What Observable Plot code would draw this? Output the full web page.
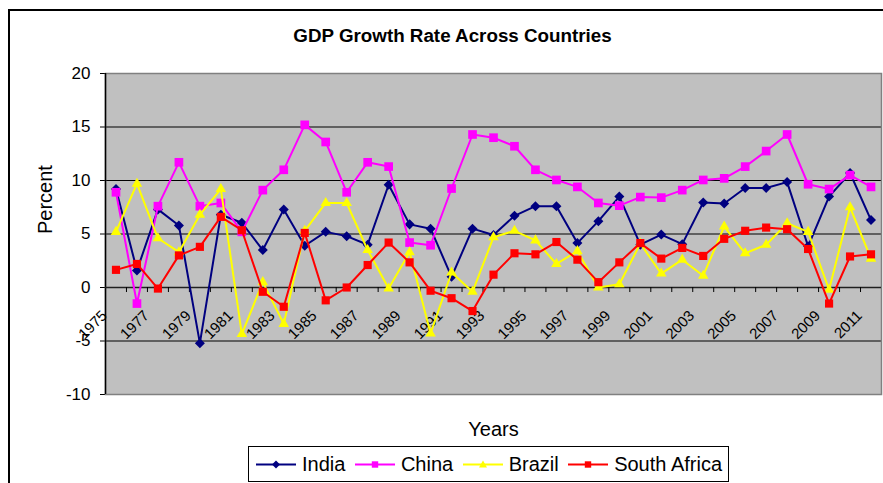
<!DOCTYPE html>
<html>
<head>
<meta charset="utf-8">
<script src="https://cdn.jsdelivr.net/npm/d3@7"></script>
<script src="https://cdn.jsdelivr.net/npm/@observablehq/plot@0.6"></script>
<style>
html, body { margin: 0; padding: 0; background: #fff; }
#wrap { position: relative; width: 883px; height: 483px; overflow: hidden; font-family: "Liberation Sans", Arial, sans-serif; color: #000; }
#outer { position: absolute; left: 8px; top: 9px; width: 900px; height: 500px; border: 2px solid #000; box-sizing: border-box; }
#chart { position: absolute; left: 0; top: 0; }
#title { position: absolute; left: 452.5px; top: 27px; transform: translateX(-50%); font-weight: bold; font-size: 18.8px; line-height: 18px; white-space: nowrap; }
#legend { position: absolute; left: 248px; top: 446px; width: 481px; height: 36px; box-sizing: border-box; border: 1px solid #000; background: #fff; display: flex; align-items: center; padding-left: 7px; font-size: 20px; white-space: nowrap; }
#legend .item { display: flex; align-items: center; margin-right: 9.5px; }
#legend svg { display: block; margin-right: 6px; }
</style>
</head>
<body>
<div id="wrap">
  <div id="outer"></div>
  <div id="chart"></div>
  <div id="title">GDP Growth Rate Across Countries</div>
  <div id="legend"></div>
</div>
<script>
// ---- data ----
const years = [1975,1976,1977,1978,1979,1980,1981,1982,1983,1984,1985,1986,1987,1988,1989,1990,1991,1992,1993,1994,1995,1996,1997,1998,1999,2000,2001,2002,2003,2004,2005,2006,2007,2008,2009,2010,2011];
const india = [9.2,1.6,7.3,5.8,-5.2,6.8,6.05,3.5,7.3,3.9,5.2,4.8,4.0,9.6,5.9,5.5,1.0,5.5,4.9,6.7,7.6,7.6,4.15,6.2,8.5,4.0,4.95,4.05,7.95,7.85,9.3,9.3,9.85,3.85,8.5,10.7,6.3];
const china = [8.9,-1.5,7.6,11.7,7.6,7.9,5.2,9.1,11.0,15.2,13.6,8.9,11.7,11.3,4.2,3.95,9.25,14.3,14.0,13.2,11.0,10.05,9.4,7.9,7.65,8.45,8.4,9.1,10.05,10.2,11.3,12.75,14.3,9.65,9.2,10.5,9.4];
const brazil = [5.2,9.7,4.6,3.3,6.8,9.2,-4.35,0.5,-3.4,5.3,7.9,7.9,3.5,-0.1,3.3,-4.3,1.4,-0.4,4.7,5.3,4.4,2.2,3.4,0.0,0.3,4.1,1.3,2.6,1.1,5.7,3.2,4.0,6.0,5.2,-0.2,7.5,2.7];
const southAfrica = [1.65,2.2,-0.1,3.0,3.8,6.6,5.35,-0.4,-1.8,5.1,-1.2,0.0,2.1,4.2,2.35,-0.3,-1.0,-2.2,1.2,3.2,3.1,4.25,2.6,0.5,2.35,4.15,2.7,3.7,2.95,4.55,5.3,5.6,5.45,3.6,-1.5,2.9,3.1];
const yTicks = [-10,-5,0,5,10,15,20];
const xLabelYears = [1975,1977,1979,1981,1983,1985,1987,1989,1991,1993,1995,1997,1999,2001,2003,2005,2007,2009,2011];
const seriesNames = ["India","China","Brazil","South Africa"];
const seriesColors = ["#000080","#FF00FF","#FFFF00","#FF0000"];
const seriesValues = [india, china, brazil, southAfrica];

// ---- layout ----
const W = 883, H = 483, ML = 105, MR = 2, MT = 73, MB = 89;
const step = (W - ML - MR) / years.length;

const diamond = {draw(ctx, size) { const s = Math.sqrt(size / 2); ctx.moveTo(0, -s); ctx.lineTo(s, 0); ctx.lineTo(0, s); ctx.lineTo(-s, 0); ctx.closePath(); }};
const symbols = [diamond, "square", "triangle", "square"];
const radii = [4.0, 4.9, 3.9, 4.6];

const rows = (vals) => years.map((year, i) => ({year, value: vals[i]}));

const marks = [
  Plot.frame({fill: "#C0C0C0", stroke: "none"}),
  Plot.ruleY(yTicks.slice(0, -1), {y: d => d, stroke: "#000", strokeWidth: 1}),
  Plot.frame({stroke: "#808080", strokeWidth: 1.5}),
  Plot.ruleX([years[0]], {x: d => d, dx: -step / 2, y1: () => yTicks[0], y2: () => yTicks[yTicks.length - 1], stroke: "#000", strokeWidth: 1.5}),
  Plot.ruleY([0], {y: d => d, stroke: "#202020", strokeWidth: 1.5}),
  Plot.ruleX(years.slice(1), {x: d => d, dx: -step / 2, y1: () => 0, y2: () => -0.47, stroke: "#000"}),
  Plot.text(xLabelYears, {x: d => d, y: () => 0, text: d => String(d), rotate: -45, textAnchor: "end", lineAnchor: "bottom", dx: -8, dy: 29, fontSize: 15}),
  Plot.text(["Years"], {frameAnchor: "bottom", text: d => d, lineAnchor: "bottom", dy: 41, fontSize: 20}),
  Plot.text(["Percent"], {frameAnchor: "left", text: d => d, rotate: -90, lineAnchor: "bottom", dx: -53.5, fontSize: 20})
];
seriesValues.forEach((vals, k) => {
  marks.push(Plot.line(rows(vals), {x: "year", y: "value", stroke: seriesColors[k], strokeWidth: 2}));
  marks.push(Plot.dot(rows(vals), {x: "year", y: "value", symbol: symbols[k], r: radii[k], fill: seriesColors[k], stroke: "none"}));
});

const chart = Plot.plot({
  width: W, height: H,
  marginLeft: ML, marginRight: MR, marginTop: MT, marginBottom: MB,
  style: {background: "transparent", fontFamily: "Liberation Sans, Arial, sans-serif", fontSize: "17px", color: "#000", overflow: "visible"},
  x: {type: "point", domain: years, padding: 0.5, axis: null},
  y: {domain: [yTicks[0], yTicks[yTicks.length - 1]], ticks: yTicks, tickSize: 5, tickPadding: 10, tickFormat: d => String(d), label: null},
  marks
});
document.getElementById("chart").appendChild(chart);

// ---- legend ----
const legend = document.getElementById("legend");
const symPaths = [
  "M20,2.5 L24,6.5 L20,10.5 L16,6.5 Z",
  "M16.8,3.3 h6.4 v6.4 h-6.4 Z",
  "M20,2.5 L24,9.5 L16,9.5 Z",
  "M16.8,3.3 h6.4 v6.4 h-6.4 Z"
];
seriesNames.forEach((name, k) => {
  const item = document.createElement("div");
  item.className = "item";
  item.innerHTML = `<svg width="40" height="13" viewBox="0 0 40 13"><line x1="0" x2="40" y1="6.5" y2="6.5" stroke="${seriesColors[k]}" stroke-width="2"/><path d="${symPaths[k]}" fill="${seriesColors[k]}"/></svg><span>${name}</span>`;
  legend.appendChild(item);
});
</script>
</body>
</html>
